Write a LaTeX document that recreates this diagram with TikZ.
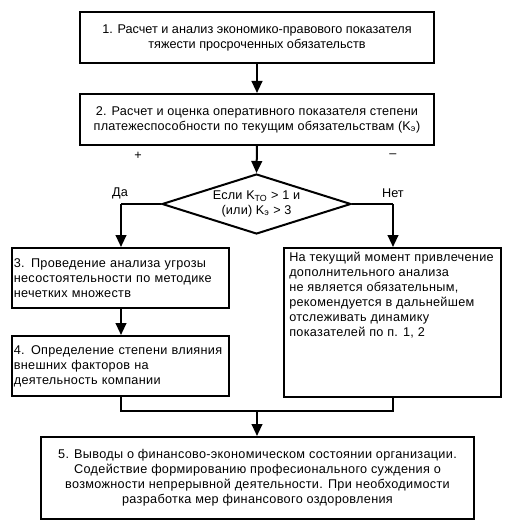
\documentclass[tikz,border=0pt]{standalone}
\usepackage{fontspec}
\setmainfont{Liberation Sans}
\newfontfamily\spacedA[LetterSpace=1.5]{Liberation Sans}
\newfontfamily\spacedB[LetterSpace=2.5]{Liberation Sans}
\usetikzlibrary{shapes.geometric,arrows.meta}
\begin{document}
\begin{tikzpicture}[x=0.75pt,y=-0.75pt,
  txt/.style={font=\fontsize{9.5}{11.25}\selectfont},
  txtA/.style={font=\fontsize{9.5}{11.25}\spacedA},
  txtB/.style={font=\fontsize{9.5}{11.25}\spacedB},
  box/.style={draw,line width=1.5pt,inner sep=0pt,txt},
  conn/.style={line width=1.5pt},
  arr/.style={conn,-{Triangle[width=8pt,length=9pt]}},
  lbl/.style={txt,inner sep=0pt}]
\useasboundingbox (0,0) rectangle (513,528);
\fill[white] (0,0) rectangle (513,528);
% boxes
\node[box,minimum width=265.5pt,minimum height=38.25pt,align=center] (b1) at (257,37.5)
  {1. Расчет и анализ экономико-правового показателя\\тяжести просроченных обязательств};
\node[box,txtA,minimum width=265.5pt,minimum height=38.25pt,align=center] (b2) at (257,119.5)
  {2. Расчет и оценка оперативного показателя степени\\платежеспособности по текущим обязательствам (K\textsubscript{э})};
\node[draw,line width=1.5pt,diamond,aspect=3.15,minimum width=141.75pt,minimum height=45pt,inner sep=0pt,txtA,align=center] (d) at (256.5,204)
  {Если K\textsubscript{ТО} > 1 и\\(или) K\textsubscript{э} > 3};
\node[box,txtB,minimum width=162.75pt,minimum height=45pt,text width=160pt,align=left] (b3) at (120.5,278)
  {3. Проведение анализа угрозы\\несостоятельности по методике\\нечетких множеств};
\node[box,txtB,minimum width=162.75pt,minimum height=45pt,text width=160pt,align=left] (b4) at (120.5,366)
  {4. Определение степени влияния\\внешних факторов на\\деятельность компании};
\node[box,minimum width=162.75pt,minimum height=111.75pt] (br) at (392.5,322.5) {};
\node[lbl,txtB,anchor=north west,align=left] (rtext) at (289,252)
  {На текущий момент привлечение\\дополнительного анализа\\не является обязательным,\\рекомендуется в дальнейшем\\отслеживать динамику\\показателей по п. 1, 2};
\node[box,txtB,minimum width=324.75pt,minimum height=61.5pt,align=center] (b5) at (257.5,478)
  {5. Выводы о финансово-экономическом состоянии организации.\\Содействие формированию професионального суждения о\\возможности непрерывной деятельности. При необходимости\\разработка мер финансового оздоровления};
% labels
\node[lbl] (plus) at (138,156) {+};
\node[lbl] (minus) at (393,156) {–};
\node[lbl] (yes) at (120,193) {Да};
\node[lbl] (no) at (393,193) {Нет};
% coordinates
\coordinate (lc) at (121,204);
\coordinate (rc) at (393,204);
\coordinate (jl) at (121,411);
\coordinate (jr) at (393,411);
\coordinate (jm) at (257,411);
% connectors
\draw[arr] (b1.south) -- (b2.north);
\draw[arr] (b2.south) -- (d.north);
\draw[conn] (d.west) -- (lc);
\draw[arr] (lc) -- (lc |- b3.north);
\draw[conn] (d.east) -- (rc);
\draw[arr] (rc) -- (rc |- br.north);
\draw[arr] (b3.south -| lc) -- (lc |- b4.north);
\draw[conn] (lc |- b4.south) -- (jl) -- (jr) -- (rc |- br.south);
\draw[arr] (jm) -- (jm |- b5.north);
\end{tikzpicture}
\end{document}
